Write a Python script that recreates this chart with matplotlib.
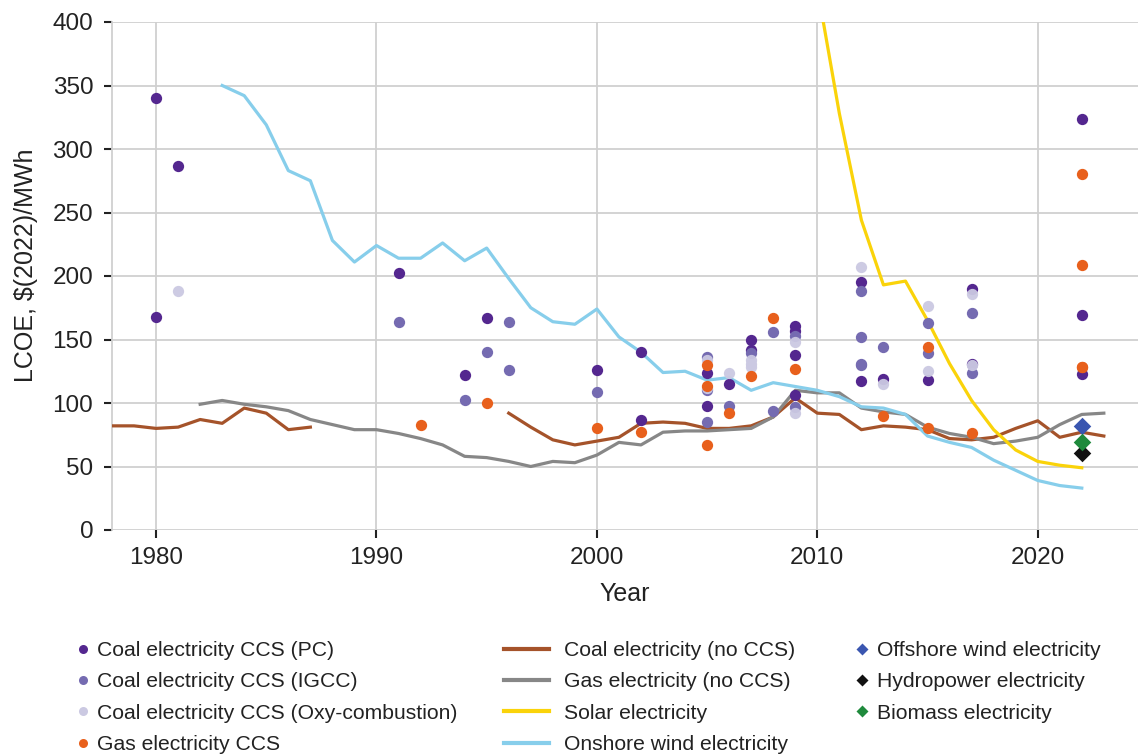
import numpy as np
import matplotlib
matplotlib.use("Agg")
import matplotlib.pyplot as plt
from matplotlib.lines import Line2D

plt.rcParams['font.family'] = ['Liberation Sans', 'DejaVu Sans']

# ---- line series ----
coal_years = list(range(1978, 2024))
coal_vals = [82, 82, 80, 81, 87, 84, 96, 92, 79, 81,
             np.nan, np.nan, np.nan, np.nan, np.nan, np.nan, np.nan, np.nan,
             92, 81, 71, 67, 70, 73, 84, 85, 84, 80, 80, 82, 89, 104,
             92, 91, 79, 82, 81, 79, 72, 71, 73, 80, 86, 73, 77, 74]

gas_years = list(range(1982, 2024))
gas_vals = [99, 102, 99, 97, 94, 87, 83, 79, 79, 76, 72, 67, 58, 57, 54, 50,
            54, 53, 59, 69, 67, 77, 78, 78, 79, 80, 89, 110, 108, 108, 96, 93,
            91, 81, 76, 73, 68, 70, 73, 83, 91, 92]

solar_years = list(range(2010, 2023))
solar_vals = [427, 328, 244, 193, 196, 165, 131, 102, 79, 63, 54, 51, 49]

wind_years = list(range(1983, 2023))
wind_vals = [350, 342, 319, 283, 275, 228, 211, 224, 214, 214, 226, 212, 222,
             198, 175, 164, 162, 174, 152, 140, 124, 125, 118, 120, 110, 116,
             113, 110, 105, 97, 96, 91, 74, 69, 65, 55, 47, 39, 35, 33]

# ---- scatter series ----
pc_years = [1980, 1980, 1981, 1991, 1994, 1995, 2000, 2002, 2002, 2005, 2005,
            2006, 2007, 2007, 2009, 2009, 2009, 2009, 2012, 2012, 2013, 2015,
            2017, 2017, 2022, 2022, 2022]
pc_vals = [340, 168, 287, 202, 122, 167, 126, 140, 87, 124, 98,
           115, 150, 142, 161, 157, 138, 106, 195, 117, 119, 118,
           190, 131, 324, 169, 123]

igcc_years = [1991, 1994, 1995, 1996, 1996, 2000, 2005, 2005, 2005, 2006,
              2007, 2008, 2008, 2009, 2009, 2012, 2012, 2012, 2012, 2013,
              2015, 2015, 2017, 2017]
igcc_vals = [164, 102, 140, 164, 126, 109, 136, 110, 85, 98,
             139, 156, 94, 153, 97, 188, 152, 131, 130, 144,
             163, 139, 171, 124]

oxy_years = [1981, 2005, 2005, 2006, 2007, 2007, 2007, 2009, 2009, 2012,
             2013, 2015, 2015, 2017, 2017]
oxy_vals = [188, 134, 112, 124, 134, 131, 128, 148, 92, 207,
            115, 176, 125, 186, 130]

gasccs_years = [1992, 1995, 2000, 2002, 2005, 2005, 2005, 2006, 2007, 2008,
                2009, 2013, 2015, 2015, 2017, 2022, 2022, 2022, 2022]
gasccs_vals = [83, 100, 80, 77, 130, 113, 67, 92, 121, 167,
               127, 90, 144, 80, 76, 280, 209, 128, 128]

offshore_years = [2022]
offshore_vals = [82]
hydro_years = [2022]
hydro_vals = [61]
biomass_years = [2022]
biomass_vals = [69]

xticks = [1980, 1990, 2000, 2010, 2020]
yticks = [0, 50, 100, 150, 200, 250, 300, 350, 400]

# ---- colours ----
c_pc = '#54278f'
c_igcc = '#756bb1'
c_oxy = '#cbc9e2'
c_gasccs = '#e8601c'
c_coal = '#a5532a'
c_gas = '#878787'
c_solar = '#fad30a'
c_wind = '#87ceeb'
c_off = '#3a56b0'
c_hydro = '#111111'
c_bio = '#1f8a3c'

fig = plt.figure(figsize=(11.38, 7.54), dpi=100)
ax = fig.add_axes([112/1138, 1-530/754, 1-112/1138, (530-22)/754])

lw = 2.3
ax.plot(coal_years, coal_vals, color=c_coal, lw=lw, zorder=3)
ax.plot(gas_years, gas_vals, color=c_gas, lw=lw, zorder=3)
ax.plot(solar_years, solar_vals, color=c_solar, lw=lw, zorder=3)
ax.plot(wind_years, wind_vals, color=c_wind, lw=lw, zorder=3)

s = 66
ax.scatter(pc_years, pc_vals, s=s, color=c_pc, lw=0, zorder=4)
ax.scatter(igcc_years, igcc_vals, s=s, color=c_igcc, lw=0, zorder=4)
ax.scatter(oxy_years, oxy_vals, s=s, color=c_oxy, lw=0, zorder=4, alpha=0.95)
ax.scatter(gasccs_years, gasccs_vals, s=s, color=c_gasccs, lw=0, zorder=4)
ax.scatter(offshore_years, offshore_vals, s=80, marker='D', color=c_off, lw=0, zorder=5)
ax.scatter(hydro_years, hydro_vals, s=80, marker='D', color=c_hydro, lw=0, zorder=5)
ax.scatter(biomass_years, biomass_vals, s=80, marker='D', color=c_bio, lw=0, zorder=5)

ax.set_xlim(1978, 2024.55)
ax.set_ylim(0, 400)
ax.set_xticks(xticks)
ax.set_yticks(yticks)
ax.grid(True, color='#d0d0d0', lw=1.3, zorder=0)
ax.set_axisbelow(True)
for sp in ['top', 'right', 'bottom']:
    ax.spines[sp].set_visible(False)
ax.spines['left'].set_color('#d0d0d0')
ax.spines['left'].set_linewidth(1.3)
ax.tick_params(axis='y', length=5.5, width=1.5, color='#222222', pad=8,
               labelsize=17.5, labelcolor='#222222')
ax.tick_params(axis='x', length=6, width=1.5, color='#222222', pad=6.5,
               labelsize=17.5, labelcolor='#222222')
ax.set_xlabel('Year', fontsize=18, color='#222222', labelpad=9)
ax.set_ylabel('LCOE, $(2022)/MWh', fontsize=18, color='#222222')
ax.yaxis.set_label_coords(-0.0725, (530-265)/508)

# ---- legends ----
fs = 15.2
col1 = [Line2D([], [], ls='none', marker='o', ms=6.5, color=c, mec='none')
        for c in [c_pc, c_igcc, c_oxy, c_gasccs]]
lab1 = ['Coal electricity CCS (PC)', 'Coal electricity CCS (IGCC)',
        'Coal electricity CCS (Oxy-combustion)', 'Gas electricity CCS']
col2 = [Line2D([], [], color=c, lw=3) for c in [c_coal, c_gas, c_solar, c_wind]]
lab2 = ['Coal electricity (no CCS)', 'Gas electricity (no CCS)',
        'Solar electricity', 'Onshore wind electricity']
col3 = [Line2D([], [], ls='none', marker='D', ms=6.5, color=c, mec='none')
        for c in [c_off, c_hydro, c_bio]]
lab3 = ['Offshore wind electricity', 'Hydropower electricity', 'Biomass electricity']

top = 1 - 641/754
common = dict(frameon=False, fontsize=fs, borderpad=0, borderaxespad=0,
              labelspacing=0.585, loc='upper left')
leg1 = fig.legend(col1, lab1, bbox_to_anchor=(75/1138, top),
                  handlelength=0.75, handletextpad=0.3, **common)
leg2 = fig.legend(col2, lab2, bbox_to_anchor=(504/1138, top),
                  handlelength=2.15, handletextpad=0.7, **common)
leg3 = fig.legend(col3, lab3, bbox_to_anchor=(854/1138, top),
                  handlelength=0.75, handletextpad=0.35, **common)
for lg in [leg1, leg2, leg3]:
    for t in lg.get_texts():
        t.set_color('#222222')

fig.savefig('out.png', dpi=100)
